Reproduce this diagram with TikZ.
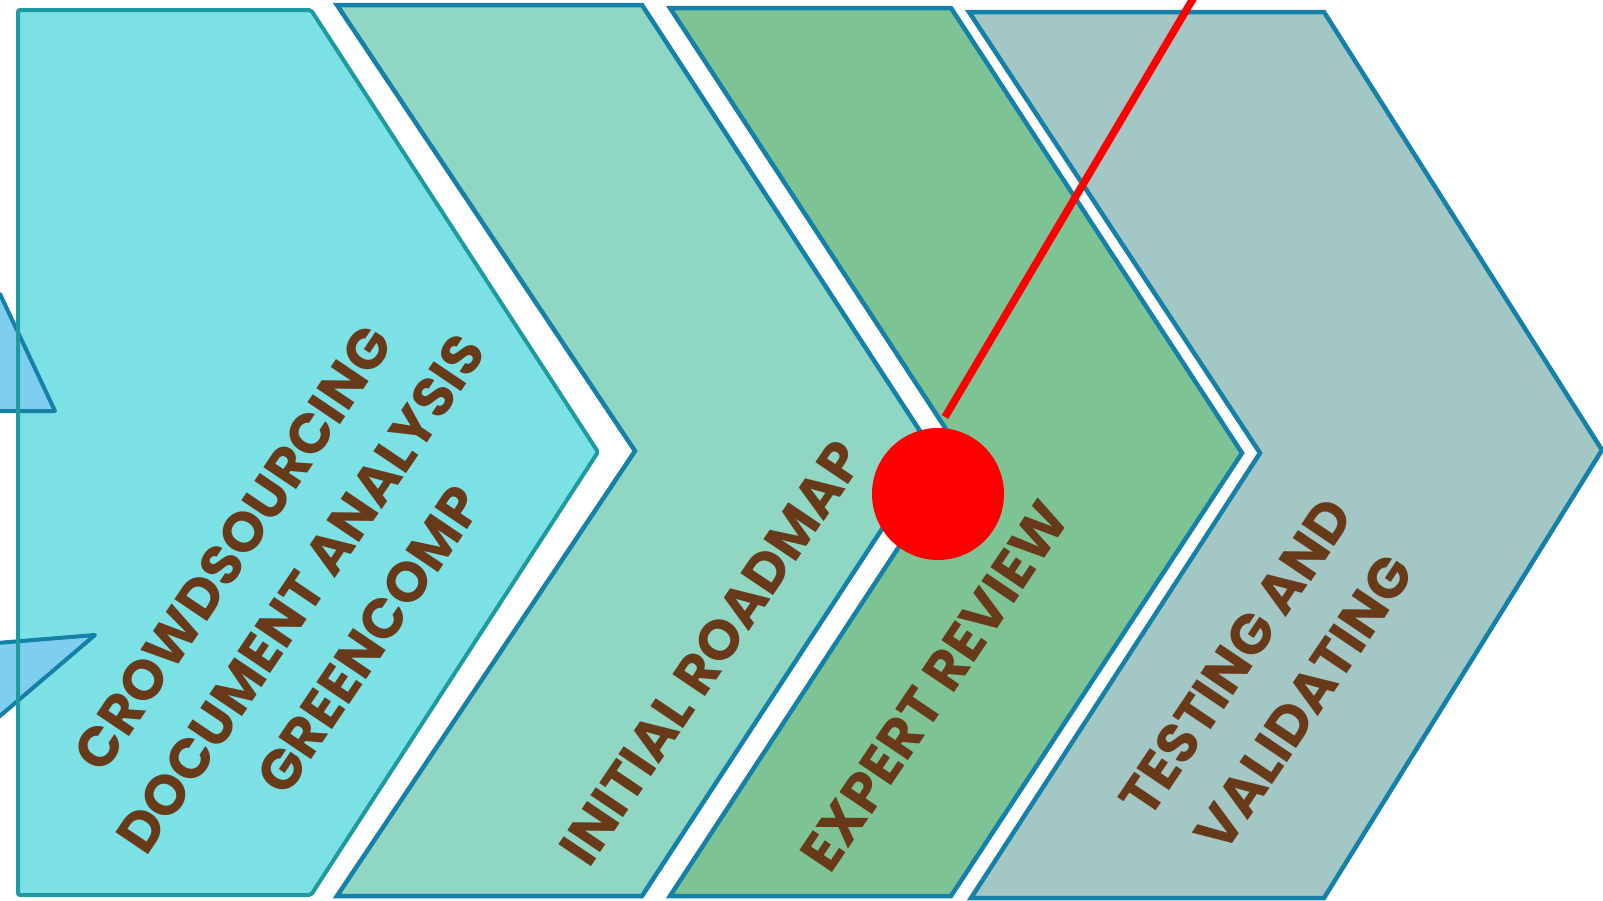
\documentclass[tikz,border=0pt]{standalone}
\usepackage{fontspec}
\setmainfont{Poppins}
\usetikzlibrary{positioning}
\definecolor{ccyan}{RGB}{123, 225, 228}
\definecolor{cteal}{RGB}{30, 155, 160}
\definecolor{cmint}{RGB}{143, 214, 195}
\definecolor{cgreen}{RGB}{126, 195, 147}
\definecolor{cgrey}{RGB}{162, 199, 196}
\definecolor{cblue}{RGB}{21, 128, 168}
\definecolor{csky}{RGB}{125, 206, 239}
\definecolor{cbrown}{RGB}{105, 58, 25}
\tikzset{
	chevron/.style={%
			draw=cblue,%
			line width=4.5pt},%
	pointer/.style={%
			fill=csky,%
			draw=cblue,%
			line width=4pt,%
			line join=round},%
	steplabel/.style={%
			text=cbrown,%
			align=center,%
			inner sep=0,%
			rotate=56,%
			font={\fontsize{56}{82}\selectfont\bfseries}},%
	reddot/.style={%
			circle,%
			fill=red,%
			inner sep=0,%
			minimum size=132pt},%
	redline/.style={%
			draw=red,%
			line width=7.5pt},%
}

\begin{document}
\begin{tikzpicture}[x=1pt, y=-1pt]
	\useasboundingbox (0,0) rectangle (1603,900);
	\clip (0,0) rectangle (1603,900);

	% chevrons
	\fill[ccyan, rounded corners=2pt] (18,10) -- (311,10) -- (598,452) -- (311,895) -- (18,895) -- cycle;
	\draw[chevron, fill=cmint] (337,5) -- (642,5) -- (933,451) -- (642,896) -- (337,896) -- (635,451) -- cycle;
	\draw[chevron, fill=cgreen] (670,8) -- (951,8) -- (1242,453) -- (951,896) -- (670,896) -- (961,452) -- cycle;
	\draw[chevron, fill=cgrey] (969,12) -- (1324,12) -- (1602,450) -- (1324,898) -- (971,898) -- (1260,453) -- cycle;

	% pointers on the left
	\draw[pointer] (55,411) -- (-20,411) -- (-70,300) -- (0,294) -- cycle;
	\draw[pointer] (95,635) -- (-40,646) -- (-40,750) -- cycle;

	\draw[draw=cteal, line width=4pt, rounded corners=2pt] (18,10) -- (311,10) -- (598,452) -- (311,895) -- (18,895) -- cycle;

	% labels
	\node[steplabel] (crowd) at (301,594) {CROWDSOURCING\\DOCUMENT ANALYSIS\\GREENCOMP};
	\node[steplabel] (roadmap) at (711,653) {INITIAL ROADMAP};
	\node[steplabel] (review) at (935,686) {EXPERT REVIEW};
	\node[steplabel] (testing) at (1270,680) {TESTING AND\\VALIDATING};

	% marker
	\node[reddot] (dot) at (938,494) {};
	\coordinate (redend) at (945,417);
	\coordinate (redtop) at (1197,-8);
	\draw[redline] (redend) -- (redtop);
\end{tikzpicture}
\end{document}
